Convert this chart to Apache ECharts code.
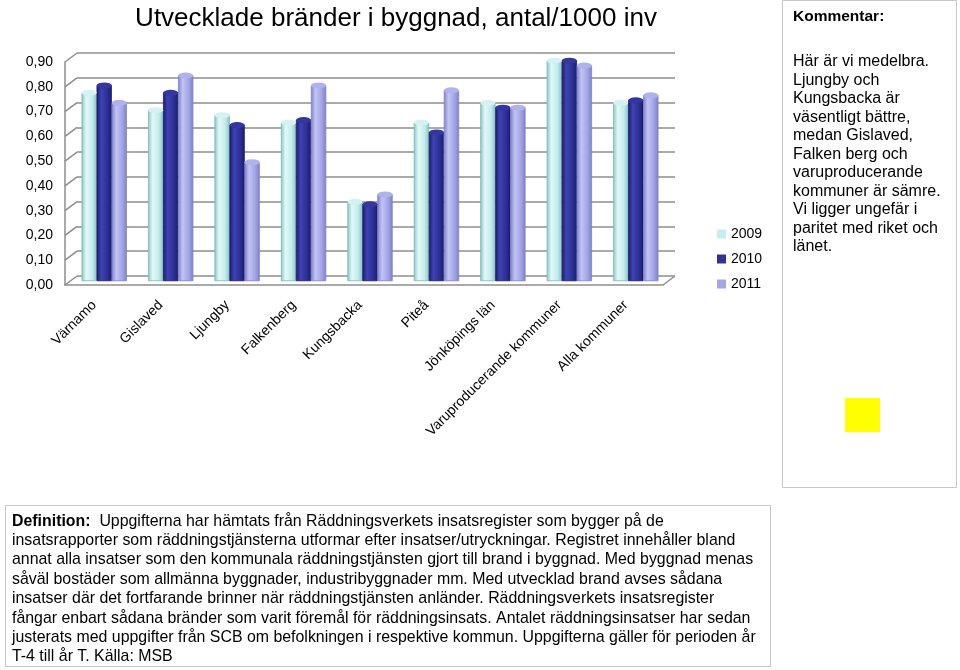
<!DOCTYPE html>
<html><head><meta charset="utf-8">
<script src="https://cdn.jsdelivr.net/npm/echarts@6/dist/echarts.min.js"></script>
<style>html,body{margin:0;padding:0;background:#fff}#c{width:960px;height:670px}</style>
</head><body><div id="c"></div>
<script>
const categories = ['Värnamo','Gislaved','Ljungby','Falkenberg','Kungsbacka','Piteå','Jönköpings län','Varuproducerande kommuner','Alla kommuner'];
const v2009 = [0.76,0.69,0.67,0.64,0.32,0.64,0.72,0.89,0.72];
const v2010 = [0.79,0.76,0.63,0.65,0.31,0.60,0.70,0.89,0.73];
const v2011 = [0.72,0.83,0.48,0.79,0.35,0.77,0.70,0.87,0.75];
const seriesNames = ['2009','2010','2011'];
const yTickValues = [0,0.1,0.2,0.3,0.4,0.5,0.6,0.7,0.8,0.9];
const yTicks = {min:0, max:0.9, interval:0.1};

const FONT = '"Liberation Sans", Arial, sans-serif';
const LINE = '#8e8e8e';
function cyl(edge, mid, light){
  return {type:'linear',x:0,y:0,x2:1,y2:0,colorStops:[
    {offset:0,color:edge},{offset:0.3,color:light},{offset:0.7,color:mid},{offset:1,color:edge}]};
}
const styles = [
  {c:cyl('#8cc6c6','#c4ecec','#e2f8f8'), cap:'#d4f2f2', legend:'#c6eeee', border:'#7fb8b8'},
  {c:cyl('#1c1d6a','#2c3096','#3f42b4'), cap:'#34379f', legend:'#2f3399', border:'#1c1d6a'},
  {c:cyl('#8082c8','#a2a4e6','#c2c4f4'), cap:'#b0b2ec', legend:'#a4a6e8', border:'#7f80c8'}
];
const dataSets = [v2009, v2010, v2011];
const BW = 15;

const chart = echarts.init(document.getElementById('c'), null, {renderer:'canvas'});
const defText = [
  '{b|Definition:}  Uppgifterna har hämtats från Räddningsverkets insatsregister som bygger på de',
  'insatsrapporter som räddningstjänsterna utformar efter insatser/utryckningar. Registret innehåller bland',
  'annat alla insatser som den kommunala räddningstjänsten gjort till brand i byggnad. Med byggnad menas',
  'såväl bostäder som allmänna byggnader, industribyggnader mm. Med utvecklad brand avses sådana',
  'insatser där det fortfarande brinner när räddningstjänsten anländer. Räddningsverkets insatsregister',
  'fångar enbart sådana bränder som varit föremål för räddningsinsats. Antalet räddningsinsatser har sedan',
  'justerats med uppgifter från SCB om befolkningen i respektive kommun. Uppgifterna gäller för perioden år',
  'T-4 till år T. Källa: MSB'
].join('\n');
const commentText = [
  'Här är vi medelbra.','Ljungby och','Kungsbacka är','väsentligt bättre,','medan Gislaved,',
  'Falken berg och','varuproducerande','kommuner är sämre.','Vi ligger ungefär i','paritet med riket och','länet.'
].join('\n');

const series = [];
seriesNames.forEach((n,i)=>{
  series.push({name:n, type:'bar', xAxisIndex:0, yAxisIndex:0, data:dataSets[i], barWidth:BW, barGap:'0%', z:3,
    itemStyle:{color:styles[i].c, borderColor:styles[i].border, borderWidth:0.5}});
});
seriesNames.forEach((n,i)=>{
  series.push({name:n, type:'pictorialBar', xAxisIndex:0, yAxisIndex:0, data:dataSets[i], z:4,
    symbol:'circle', symbolSize:[BW, 6], symbolPosition:'end', symbolOffset:[(i-1)*BW, '-50%'],
    itemStyle:{color:styles[i].cap, borderColor:styles[i].border, borderWidth:0.5},
    legendHoverLink:false, silent:true});
});

chart.setOption({
  animation:false,
  backgroundColor:'#fff',
  textStyle:{fontFamily:FONT},
  title:{text:'Utvecklade bränder i byggnad, antal/1000 inv', left:391, top:1, textAlign:'center',
    textStyle:{fontFamily:FONT,fontSize:26,fontWeight:'normal',color:'#000'}},
  legend:{orient:'vertical', left:712, top:222, itemWidth:9, itemHeight:9, itemGap:11,
    data:seriesNames.map((n,i)=>({name:n, icon:'rect', itemStyle:{color:styles[i].legend, borderWidth:0}})),
    textStyle:{fontFamily:FONT,fontSize:14,color:'#000'}},
  grid:[
    {left:71, right:291, top:58, bottom:389},
    {left:65, right:297, top:62, bottom:385},
    {left:77, right:285, top:53, bottom:394}
  ],
  xAxis:[
    {type:'category', gridIndex:0, data:categories, axisLine:{show:false}, axisTick:{show:false},
      axisLabel:{rotate:45, interval:0, fontFamily:FONT, fontSize:14, color:'#000', margin:12, padding:[0,14,0,0]}},
    {type:'category', gridIndex:1, data:categories, axisLine:{show:true, lineStyle:{color:LINE, width:1.5}},
      axisTick:{show:false}, axisLabel:{show:false}},
    {type:'category', gridIndex:2, data:categories, axisLine:{show:false}, axisTick:{show:false}, axisLabel:{show:false}}
  ],
  yAxis:[
    {type:'value', gridIndex:0, min:yTicks.min, max:yTicks.max, interval:yTicks.interval,
      axisLine:{show:false}, axisTick:{show:false}, axisLabel:{show:false}, splitLine:{show:false}},
    {type:'value', gridIndex:1, min:yTicks.min, max:yTicks.max, interval:yTicks.interval,
      axisLine:{show:true, lineStyle:{color:LINE, width:1.5}}, axisTick:{show:false}, splitLine:{show:false},
      axisLabel:{fontFamily:FONT, fontSize:14, color:'#000', margin:12,
        formatter:v=>v.toFixed(2).replace('.',',')}},
    {type:'value', gridIndex:2, min:yTicks.min, max:yTicks.max, interval:yTicks.interval,
      axisLine:{show:false}, axisTick:{show:false}, axisLabel:{show:false},
      splitLine:{lineStyle:{color:LINE, width:1.5}}}
  ],
  series: series,
  graphic:[
    {type:'rect', shape:{x:782.5,y:0.5,width:174,height:487}, style:{fill:'#fff',stroke:'#c8c8c8',lineWidth:1}},
    {type:'text', x:793, y:9, style:{text:'Kommentar:', font:'bold 15.5px '+FONT, fill:'#000'}},
    {type:'text', x:793, y:52.5, style:{text:commentText, font:'16px '+FONT, fill:'#000', lineHeight:18.5}},
    {type:'rect', shape:{x:845,y:398,width:35,height:34}, style:{fill:'#ffff00'}},
    {type:'rect', shape:{x:5.5,y:505.5,width:765,height:161}, style:{fill:'#fff',stroke:'#c8c8c8',lineWidth:1}},
    {type:'text', x:12, y:511.5, style:{text:defText, font:'15.9px '+FONT, fill:'#000', lineHeight:19.4,
      rich:{b:{fontWeight:'bold', fontSize:15.9, fontFamily:FONT, fill:'#000', lineHeight:19.4}}}}
  ]
});

// 3D frame connectors: front (grid 1) to back wall (grid 2)
const lines = [];
yTickValues.forEach(v=>{
  const yf = chart.convertToPixel({yAxisIndex:1}, v);
  const yb = chart.convertToPixel({yAxisIndex:2}, v);
  lines.push({type:'line', z:1, shape:{x1:65, y1:yf, x2:77, y2:yb}, style:{stroke:LINE, lineWidth:1.5}});
});
const yf0 = chart.convertToPixel({yAxisIndex:1}, 0);
const yb0 = chart.convertToPixel({yAxisIndex:2}, 0);
lines.push({type:'line', z:1, shape:{x1:960-297, y1:yf0, x2:960-285, y2:yb0}, style:{stroke:LINE, lineWidth:1.5}});
chart.setOption({graphic: chart.getOption().graphic[0].elements.concat(lines)});
</script></body></html>
